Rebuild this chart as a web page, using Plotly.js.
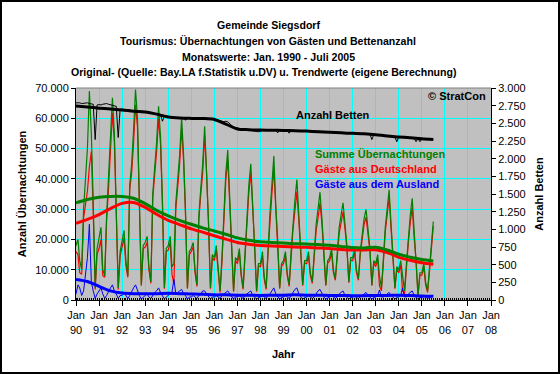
<!DOCTYPE html>
<html><head><meta charset="utf-8">
<script src="https://cdn.plot.ly/plotly-3.0.1.min.js"></script>
<style>
html,body{margin:0;padding:0;background:#fff}
#frame{position:absolute;left:0;top:0;width:556px;height:370px;border:2px solid #000}
#chart{width:556px;height:370px}
</style>
</head><body><div id="frame"><div id="chart"></div></div>
<script>
// Monthly series, Jan 1990 - Jul 2005
const startYear = 1990;
const summe = [
 18000,20000,13000,10000,30000,39000,50000,69000,55000,32000,4000,17000,
 20000,24000,10000,8000,28000,40000,52000,66800,55000,30000,4000,16000,
 19000,23000,13000,8000,38000,45000,56000,69500,60000,37000,5000,18000,
 19000,21000,11000,6000,35000,44000,52000,64000,54000,33000,4000,17000,
 18000,21000,11000,12000,32000,40000,48000,60200,48000,30000,4000,16000,
 17000,19000,10000,5000,28000,37000,45000,57400,44000,26000,4000,15000,
 14000,18000,11000,3000,14000,31000,42000,49500,34000,20000,3000,14000,
 13000,17000,9000,4000,16000,30000,38000,45000,32000,19000,3000,12000,
 12000,16000,8000,4000,17000,29000,38000,47500,31000,20000,4000,12000,
 13000,16000,9000,5000,16000,26000,33000,39800,28000,18000,5000,13000,
 13000,16000,9000,6000,15000,25000,30000,35600,27000,17000,5000,13000,
 14000,17000,10000,7000,16000,24000,28000,32100,25000,18000,6000,14000,
 14000,17000,10000,7000,16000,22000,27000,29900,24000,17000,5000,13000,
 12000,15000,8000,4000,13000,24000,30000,36400,25000,15000,4000,11000,
 10000,13000,7000,3000,12000,21000,28000,33600,22000,14000,1500,9000,
 9000,12000,6000,3000,10000,17000,25900
];
const deutschland = [
 16000,15000,9000,8500,27000,31000,36000,44000,49000,29000,3500,15000,
 17000,20000,8000,7500,26500,37000,48000,61800,52000,28000,3500,14500,
 17500,20500,11500,7500,36500,42000,52000,64500,57000,35500,4700,17000,
 17500,19000,10000,5500,33500,41500,49000,60000,51500,31500,3700,16000,
 16500,19000,8500,5200,30000,37500,45000,56700,46000,28500,3700,15000,
 16000,17500,9000,4500,26500,35000,42000,54400,42000,25000,3700,14000,
 13000,16500,10000,2500,12500,29000,39500,46500,32000,19000,2700,13000,
 12000,15500,8000,3500,14500,28000,35500,42000,30500,18000,2700,11200,
 11000,14500,7000,3500,15500,27000,35000,43500,29000,19000,3700,11200,
 12000,14500,8000,4500,14500,23500,29500,35800,26000,17000,4700,12200,
 12000,14500,8000,5500,14000,23000,27000,32100,25000,16000,4700,12200,
 13000,15500,9000,6500,15000,22000,25500,29100,23500,17000,5700,13200,
 13000,15800,9200,6500,15000,20500,25000,27400,22500,16000,4700,12200,
 11000,13500,4700,3000,12000,22500,28000,33900,23500,14200,3700,10200,
 9000,11500,3000,2000,11000,19000,25500,30600,20500,13200,1300,8200,
 8200,10800,5000,2500,9200,15800,24400
];
const ausland = [
 2000,5000,4000,1500,3000,8000,14000,25000,6000,3000,500,2000,
 3000,4000,2000,500,1500,3000,4000,5000,3000,2000,500,1500,
 1500,2500,1500,500,1500,3000,4000,5000,3000,1500,300,1000,
 1500,2000,1000,500,1500,2500,3000,4000,2500,1500,300,1000,
 1500,2000,2500,6800,2000,2500,3000,3500,2000,1500,300,1000,
 1000,1500,1000,500,1500,2000,3000,3000,2000,1000,300,1000,
 1000,1500,1000,500,1500,2000,2500,3000,2000,1000,300,1000,
 1000,1500,1000,500,1500,2000,2500,3000,1500,1000,300,800,
 1000,1500,1000,500,1500,2000,3000,4000,2000,1000,300,800,
 1000,1500,1000,500,1500,2500,3500,4000,2000,1000,300,800,
 1000,1500,1000,500,1000,2000,3000,3500,2000,1000,300,800,
 1000,1500,1000,500,1000,2000,2500,3000,1500,1000,300,800,
 1000,1200,800,500,1000,1500,2000,2500,1500,1000,300,800,
 1000,1500,3300,1000,1000,1500,2000,2500,1500,800,300,800,
 1000,1500,4000,1000,1000,2000,2500,3000,1500,800,200,800,
 800,1200,1000,500,800,1200,1500
];
const betten = [
 2790,2795,2790,2780,2785,2790,2790,2780,2775,2770,2270,2760,
 2765,2760,2770,2780,2780,2770,2760,2750,2745,2740,2300,2700,
 2700,2700,2695,2690,2690,2680,2680,2670,2660,2660,2650,2650,
 2665,2660,2655,2650,2650,2640,2635,2630,2625,2530,2600,2600,
 2600,2595,2590,2585,2580,2580,2575,2575,2575,2545,2570,2570,
 2570,2570,2570,2570,2570,2570,2570,2565,2565,2565,2565,2560,
 2560,2555,2550,2540,2530,2520,2530,2520,2490,2470,2450,2440,
 2430,2425,2420,2420,2415,2410,2400,2395,2390,2380,2375,2380,
 2390,2400,2405,2405,2405,2400,2405,2405,2400,2365,2405,2405,
 2400,2400,2400,2360,2400,2400,2395,2390,2395,2400,2390,2395,
 2395,2390,2390,2390,2390,2390,2390,2385,2385,2385,2380,2380,
 2380,2375,2375,2370,2370,2365,2365,2360,2360,2355,2355,2355,
 2355,2355,2350,2350,2350,2350,2350,2345,2345,2345,2270,2340,
 2340,2335,2335,2330,2325,2320,2320,2315,2315,2310,2305,2240,
 2305,2300,2300,2295,2295,2290,2290,2285,2285,2240,2285,2240,
 2280,2280,2275,2275,2275,2270,2270
];

// Trend values (half-yearly, own calculation)
const trendDates = [
 '1990-01-01','1990-07-01','1991-01-01','1991-07-01','1992-01-01','1992-07-01',
 '1993-01-01','1993-07-01','1994-01-01','1994-07-01','1995-01-01','1995-07-01',
 '1996-01-01','1996-07-01','1997-01-01','1997-07-01','1998-01-01','1998-07-01',
 '1999-01-01','1999-07-01','2000-01-01','2000-07-01','2001-01-01','2001-07-01',
 '2002-01-01','2002-07-01','2003-01-01','2003-07-01','2004-01-01','2004-07-01',
 '2005-01-01','2005-07-01'
];
const trendSumme = [32100,33200,33900,34200,34200,33600,31800,29600,27800,26300,25000,23800,
 22800,21700,20500,19700,19200,19000,18800,18600,18500,18300,18100,17700,17300,17200,17400,16500,
 15100,14100,13400,12900];
const trendDeutschland = [25300,26600,28200,30200,31900,32200,30600,28300,26300,24900,23500,22400,
 21200,20100,19000,18400,18000,17800,17700,17500,17400,17200,17000,16700,16500,16500,16600,15700,
 14100,13100,12300,11800];
const trendAusland = [6800,6100,4500,3000,2300,2100,2100,2100,2200,2100,2000,1900,
 1700,1700,1600,1600,1500,1600,1600,1700,1600,1600,1500,1500,1400,1400,1500,1500,
 1600,1500,1300,1200];
const trendBetten = [2745,2730,2715,2703,2690,2672,2660,2630,2590,2575,2570,2568,
 2555,2490,2420,2410,2405,2403,2400,2395,2390,2382,2374,2365,2358,2352,2340,2320,
 2308,2296,2282,2272];

const tickYears = ['1990','1991','1992','1993','1994','1995','1996','1997','1998','1999',
 '2000','2001','2002','2003','2004','2005','2006','2007','2008'];
const tickLabels = ['Jan<br>90','Jan<br>91','Jan<br>92','Jan<br>93','Jan<br>94','Jan<br>95',
 'Jan<br>96','Jan<br>97','Jan<br>98','Jan<br>99','Jan<br>00','Jan<br>01','Jan<br>02',
 'Jan<br>03','Jan<br>04','Jan<br>05','Jan<br>06','Jan<br>07','Jan<br>08'];

function monthDates(n){
  const out=[];
  for(let i=0;i<n;i++){
    const y=startYear+Math.floor(i/12), m=(i%12)+1;
    out.push(y+'-'+(m<10?'0':'')+m+'-01');
  }
  return out;
}
const months = monthDates(summe.length);

const GREEN='#008000', RED='#FF0000', BLUE='#0000FF', BLACK='#000000';
const traces = [
  {x:months, y:deutschland, type:'scatter', mode:'lines', line:{color:RED, width:1.2}},
  {x:months, y:summe, type:'scatter', mode:'lines', line:{color:GREEN, width:1.2}},
  {x:months, y:ausland, type:'scatter', mode:'lines', line:{color:BLUE, width:1}},
  {x:trendDates, y:trendDeutschland, type:'scatter', mode:'lines', line:{color:RED, width:3, shape:'spline', smoothing:0.8}},
  {x:trendDates, y:trendSumme, type:'scatter', mode:'lines', line:{color:GREEN, width:3, shape:'spline', smoothing:0.8}},
  {x:trendDates, y:trendAusland, type:'scatter', mode:'lines', line:{color:BLUE, width:3, shape:'spline', smoothing:0.8}},
  {x:months, y:betten, type:'scatter', mode:'lines', yaxis:'y2', line:{color:BLACK, width:1}},
  {x:trendDates, y:trendBetten, type:'scatter', mode:'lines', yaxis:'y2', line:{color:BLACK, width:3, shape:'spline', smoothing:0.8}}
];

const FONT='Liberation Sans, Arial, sans-serif';
const PW=415, PH=212, ML=74, MT=86;
function px(x){return (x-2-ML)/PW;}
function py(y){return (MT+PH-(y-2))/PH;}
function ann(text,x,y,color,xanchor,size){
  return {text:'<b>'+text+'</b>', x:px(x), y:py(y), xref:'paper', yref:'paper', showarrow:false,
    xanchor:xanchor||'left', yanchor:'middle', font:{family:FONT, size:size||11, color:color||BLACK}};
}
const annotations = [
  ann('Gemeinde Siegsdorf',268,25,BLACK,'center',10.6),
  ann('Tourismus: Übernachtungen von Gästen und Bettenanzahl',268,41,BLACK,'center',10.6),
  ann('Monatswerte: Jan. 1990 - Juli 2005',268,57,BLACK,'center',10.6),
  ann('Original- (Quelle: Bay.LA f.Statistik u.DV) u. Trendwerte (eigene Berechnung)',264,72,BLACK,'center',10.6),
  ann('Anzahl Betten',294,115,BLACK),
  ann('Summe Übernachtungen',313,154,GREEN),
  ann('Gäste aus Deutschland',313,169,RED),
  ann('Gäste aus dem Ausland',313,184,BLUE),
  ann('© StratCon',488,96,BLACK,'right')
];

const layout = {
  width:556, height:370,
  margin:{l:ML, r:556-ML-PW, t:MT, b:370-MT-PH, pad:0},
  paper_bgcolor:'#FFFFFF', plot_bgcolor:'#C0C0C0',
  separators:',.',
  font:{family:FONT, size:11, color:BLACK},
  showlegend:false,
  xaxis:{type:'date', range:['1990-01-01','2008-01-01'],
    tickmode:'array', tickvals:tickYears.map(y=>y+'-01-01'), ticktext:tickLabels,
    showgrid:true, gridcolor:'#00FFFF', gridwidth:1,
    showline:true, linecolor:BLACK, linewidth:1, zeroline:false,
    ticks:'outside', ticklen:5, tickcolor:BLACK,
    minor:{tickmode:'linear', tick0:'1990-01-01', dtick:'M1', ticks:'inside', ticklen:2, tickcolor:BLACK, showgrid:false},
    tickfont:{family:FONT, size:11},
    title:{text:'<b>Jahr</b>', font:{family:FONT, size:11}, standoff:15}},
  yaxis:{range:[0,70000], tickmode:'linear', tick0:0, dtick:10000, tickformat:',d',
    showgrid:true, gridcolor:'#00FFFF', gridwidth:1,
    showline:true, linecolor:BLACK, zeroline:false,
    ticks:'outside', ticklen:4, tickcolor:BLACK,
    tickfont:{family:FONT, size:11},
    title:{text:'<b>Anzahl Übernachtungen</b>', font:{family:FONT, size:11}, standoff:6}},
  yaxis2:{overlaying:'y', side:'right', range:[0,3000], tickmode:'linear', tick0:0, dtick:250, tickformat:',d',
    showgrid:false, showline:true, linecolor:BLACK, zeroline:false,
    ticks:'outside', ticklen:4, tickcolor:BLACK,
    tickfont:{family:FONT, size:11},
    title:{text:'<b>Anzahl Betten</b>', font:{family:FONT, size:11}, standoff:10}},
  shapes:[{type:'line', xref:'paper', yref:'paper', x0:0, x1:1, y0:1, y1:1, line:{color:'#808080', width:1}, layer:'above'}],
  annotations:annotations
};

Plotly.newPlot('chart', traces, layout, {staticPlot:true, displayModeBar:false});
</script>
</body></html>
